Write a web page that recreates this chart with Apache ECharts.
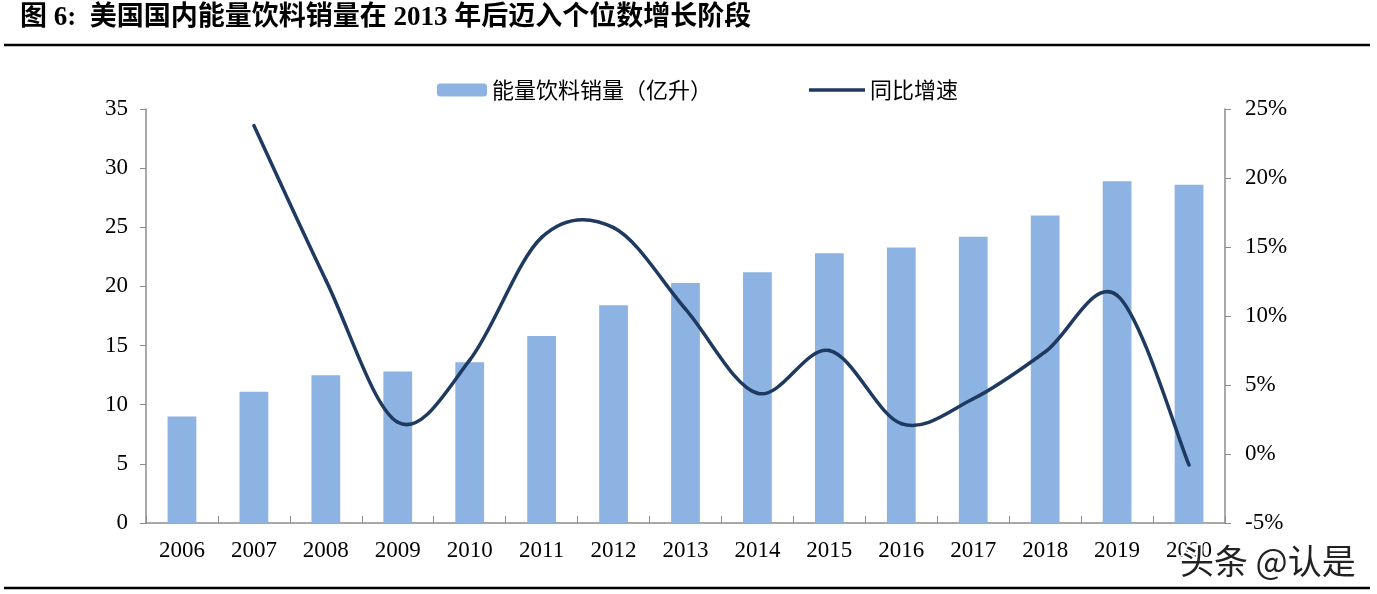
<!DOCTYPE html>
<html>
<head>
<meta charset="utf-8">
<script src="https://cdn.jsdelivr.net/npm/echarts@6/dist/echarts.min.js"></script>
<style>
html,body{margin:0;padding:0;background:#fff;}
#c{width:1377px;height:594px;}
</style>
</head>
<body>
<div id="c"></div>
<script>
const years = ['2006','2007','2008','2009','2010','2011','2012','2013','2014','2015','2016','2017','2018','2019','2020'];
const sales = [9.0, 11.1, 12.5, 12.8, 13.6, 15.8, 18.4, 20.3, 21.2, 22.8, 23.3, 24.2, 26.0, 28.9, 28.6];
const growth = [null, 23.8, 12.6, 2.3, 6.8, 15.7, 16.4, 10.5, 4.4, 7.5, 2.2, 4.0, 7.4, 11.5, -0.8];
const leftTicks = {min: 0, max: 35, interval: 5};
const rightTicks = {min: -5, max: 25, interval: 5};
const titleText = '图 6:  美国国内能量饮料销量在 2013 年后迈入个位数增长阶段';
const salesName = '能量饮料销量（亿升）';
const growthName = '同比增速';

const serif = '"Liberation Serif", "Noto Sans CJK SC", serif';
const cjk = '"Noto Sans CJK SC", sans-serif';
const axisGray = '#8c8c8c';
const lineColor = '#1F3A60';

// Smoothed line (Excel-style cardinal spline) drawn through the chart's own coordinate system
function renderSmoothLine(params, api) {
  if (params.dataIndex !== growth.length - 1) return null;
  const pts = [];
  growth.forEach(function (v, i) {
    if (v !== null && v !== undefined) pts.push(api.coord([i, v]));
  });
  const n = pts.length;
  const children = [];
  for (let k = 0; k < n - 1; k++) {
    const p0 = pts[Math.max(k - 1, 0)];
    const p1 = pts[k];
    const p2 = pts[k + 1];
    const p3 = pts[Math.min(k + 2, n - 1)];
    children.push({
      type: 'bezierCurve',
      shape: {
        x1: p1[0], y1: p1[1], x2: p2[0], y2: p2[1],
        cpx1: p1[0] + (p2[0] - p0[0]) / 6, cpy1: p1[1] + (p2[1] - p0[1]) / 6,
        cpx2: p2[0] - (p3[0] - p1[0]) / 6, cpy2: p2[1] - (p3[1] - p1[1]) / 6
      },
      style: {stroke: lineColor, lineWidth: 3.5, fill: null, lineCap: 'round'}
    });
  }
  return {type: 'group', children: children};
}

const chart = echarts.init(document.getElementById('c'), null, {renderer: 'canvas'});
chart.setOption({
  animation: false,
  backgroundColor: '#fff',
  graphic: [
    {type: 'text', left: 20, top: 5, style: {text: titleText, font: 'bold 27px ' + serif, fill: '#000'}},
    {type: 'line', shape: {x1: 4, y1: 45, x2: 1370, y2: 45}, style: {stroke: '#000', lineWidth: 2.5}},
    {type: 'line', shape: {x1: 4, y1: 588, x2: 1370, y2: 588}, style: {stroke: '#000', lineWidth: 2.5}},
    {type: 'text', left: 1178, top: 542, z: 100, style: {text: '头条 @认是', font: '34px ' + cjk, fill: '#222', stroke: '#fff', lineWidth: 4, shadowColor: 'rgba(0,0,0,0.3)', shadowBlur: 2, shadowOffsetX: 1, shadowOffsetY: 1}}
  ],
  legend: [
    {
      data: [salesName], left: 432, top: 74, itemWidth: 50, itemHeight: 13, itemGap: 8,
      textStyle: {fontFamily: cjk, fontSize: 22, color: '#000'}
    },
    {
      data: [{name: growthName, icon: 'rect'}], left: 804, top: 74, itemWidth: 56, itemHeight: 3.5,
      itemStyle: {color: lineColor},
      textStyle: {fontFamily: cjk, fontSize: 22, color: '#000'}
    }
  ],
  grid: {left: 146, right: 152, top: 109, bottom: 71, containLabel: false},
  xAxis: {
    type: 'category', data: years, boundaryGap: true,
    axisLine: {lineStyle: {color: axisGray, width: 1.5}},
    axisTick: {show: true, inside: true, length: 7, alignWithLabel: false, lineStyle: {color: axisGray}},
    axisLabel: {fontFamily: serif, fontSize: 23, color: '#000', margin: 16, interval: 0}
  },
  yAxis: [
    {
      type: 'value', min: leftTicks.min, max: leftTicks.max, interval: leftTicks.interval, position: 'left',
      splitLine: {show: false},
      axisLine: {show: true, lineStyle: {color: axisGray, width: 1.5}},
      axisTick: {show: true, length: 6, lineStyle: {color: axisGray}},
      axisLabel: {fontFamily: serif, fontSize: 23, color: '#000', margin: 18}
    },
    {
      type: 'value', min: rightTicks.min, max: rightTicks.max, interval: rightTicks.interval, position: 'right',
      splitLine: {show: false},
      axisLine: {show: true, lineStyle: {color: axisGray, width: 1.5}},
      axisTick: {show: true, length: 6, lineStyle: {color: axisGray}},
      axisLabel: {fontFamily: serif, fontSize: 23, color: '#000', margin: 20, formatter: '{value}%'}
    }
  ],
  series: [
    {
      name: salesName, type: 'bar', data: sales, yAxisIndex: 0, barWidth: '40%', z: 2,
      itemStyle: {color: '#8DB3E2'}
    },
    {
      name: growthName, type: 'custom', yAxisIndex: 1, z: 10,
      data: growth.map(function (v, i) { return [i, v === null ? '-' : v]; }),
      encode: {x: 0, y: 1},
      renderItem: renderSmoothLine,
      itemStyle: {color: lineColor},
      clip: false
    }
  ]
});
</script>
</body>
</html>
